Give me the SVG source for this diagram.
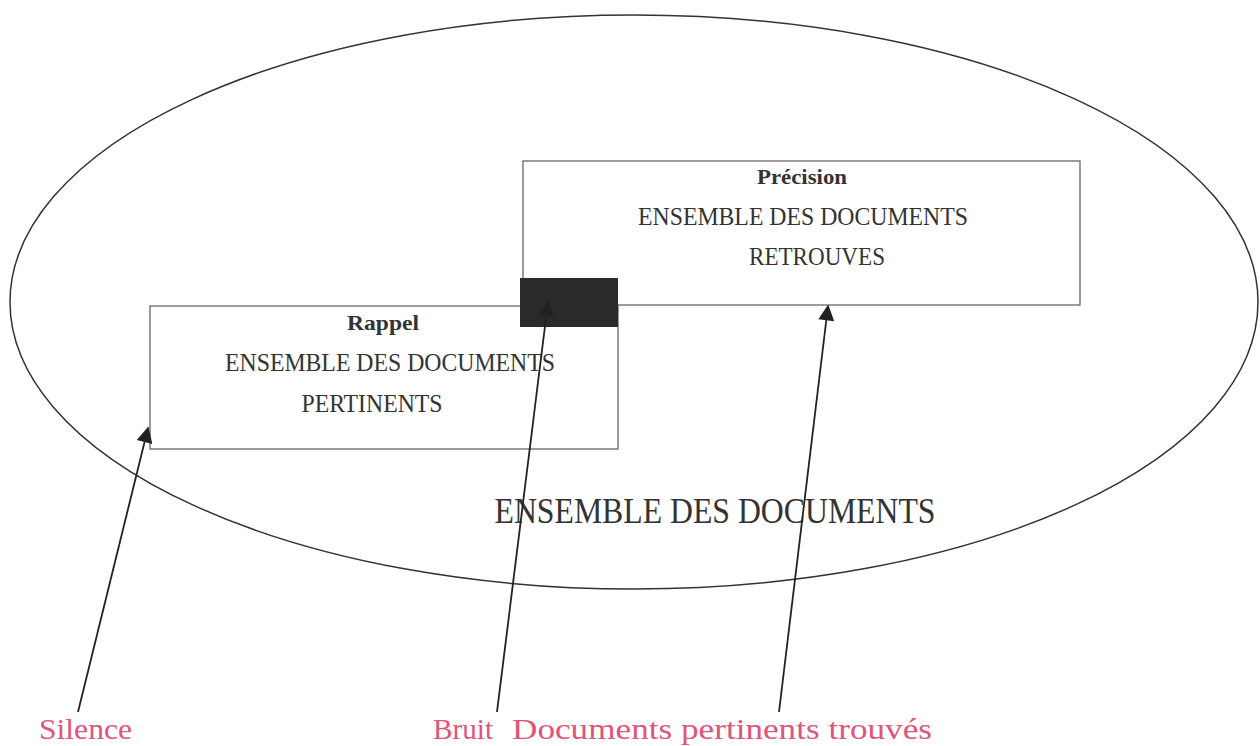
<svg xmlns="http://www.w3.org/2000/svg" width="1260" height="746" viewBox="0 0 1260 746">
<defs>
<style>
.t{font-family:"Liberation Serif","Times New Roman",serif;fill:#333;text-anchor:middle}
.b{font-weight:bold;font-size:22px}
.m{font-size:26px}
.p{font-family:"Liberation Serif","Times New Roman",serif;fill:#e0557a;font-size:30px}
.box{fill:none;stroke:#666;stroke-width:1.3}
.ln{stroke:#222;stroke-width:1.8;fill:none}
</style>
<marker id="ah2" viewBox="0 0 10 10" refX="9" refY="5" markerWidth="20" markerHeight="16" markerUnits="userSpaceOnUse" orient="auto">
<path d="M0,0 L10,5 L0,10 z" fill="#222"/>
</marker>
</defs>
<rect width="1260" height="746" fill="#fff"/>
<g id="univers">
<ellipse cx="634" cy="302" rx="624" ry="287" fill="none" stroke="#333" stroke-width="1.5"/>
<text class="t" x="715" y="523" style="font-size:35px" textLength="441" lengthAdjust="spacingAndGlyphs">ENSEMBLE DES DOCUMENTS</text>
</g>
<g id="precision">
<rect class="box" x="523" y="161" width="557" height="144"/>
<text class="t b" x="802" y="184" textLength="90" lengthAdjust="spacingAndGlyphs">Précision</text>
<text class="t m" x="803" y="225" textLength="330" lengthAdjust="spacingAndGlyphs">ENSEMBLE DES DOCUMENTS</text>
<text class="t m" x="817" y="265" textLength="136" lengthAdjust="spacingAndGlyphs">RETROUVES</text>
</g>
<g id="rappel">
<rect class="box" x="150" y="306" width="468" height="143"/>
<text class="t b" x="383" y="330" textLength="72" lengthAdjust="spacingAndGlyphs">Rappel</text>
<text class="t m" x="390" y="371" textLength="330" lengthAdjust="spacingAndGlyphs">ENSEMBLE DES DOCUMENTS</text>
<text class="t m" x="372" y="412" textLength="141" lengthAdjust="spacingAndGlyphs">PERTINENTS</text>
</g>
<g id="intersection">
<rect x="520" y="278" width="98" height="49" fill="#2a2a2a"/>
</g>
<g id="connectors">
<line class="ln" x1="78" y1="712" x2="148" y2="428" marker-end="url(#ah2)"/>
<line class="ln" x1="497" y1="712" x2="548" y2="302" marker-end="url(#ah2)"/>
<line class="ln" x1="779" y1="712" x2="828" y2="306" marker-end="url(#ah2)"/>
</g>
<g id="labels">
<text class="p" x="39" y="739" textLength="93" lengthAdjust="spacingAndGlyphs">Silence</text>
<text class="p" x="433" y="739" textLength="60" lengthAdjust="spacingAndGlyphs">Bruit</text>
<text class="p" x="512" y="739" textLength="420" lengthAdjust="spacingAndGlyphs">Documents pertinents trouvés</text>
</g>
</svg>
